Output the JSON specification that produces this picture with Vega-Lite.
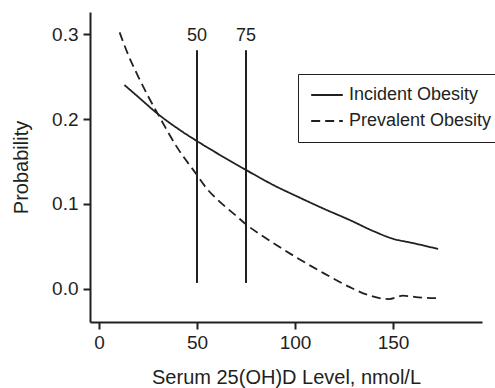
{
  "$schema": "https://vega.github.io/schema/vega-lite/v6.json",
  "autosize": {"type": "none"},
  "width": 392,
  "height": 310,
  "padding": {"left": 90, "top": 12, "right": 13, "bottom": 66},
  "background": "white",
  "config": {
    "view": {"stroke": null},
    "font": "Liberation Sans",
    "axis": {"grid": false, "domainColor": "#231f20", "tickColor": "#231f20", "domainWidth": 2, "tickWidth": 2, "tickSize": 7, "labelColor": "#231f20", "titleColor": "#231f20", "labelFontSize": 19, "titleFontSize": 20, "titleFontWeight": "normal", "labelFont": "Liberation Sans", "titleFont": "Liberation Sans", "labelPadding": 5}
  },
  "datasets": {
    "curves": [
      {"x": 13, "p": 0.240, "series": "Incident Obesity"},
      {"x": 20, "p": 0.226, "series": "Incident Obesity"},
      {"x": 30, "p": 0.206, "series": "Incident Obesity"},
      {"x": 40, "p": 0.189, "series": "Incident Obesity"},
      {"x": 50, "p": 0.174, "series": "Incident Obesity"},
      {"x": 60, "p": 0.160, "series": "Incident Obesity"},
      {"x": 75, "p": 0.140, "series": "Incident Obesity"},
      {"x": 90, "p": 0.121, "series": "Incident Obesity"},
      {"x": 100, "p": 0.110, "series": "Incident Obesity"},
      {"x": 115, "p": 0.094, "series": "Incident Obesity"},
      {"x": 128, "p": 0.081, "series": "Incident Obesity"},
      {"x": 140, "p": 0.068, "series": "Incident Obesity"},
      {"x": 150, "p": 0.059, "series": "Incident Obesity"},
      {"x": 160, "p": 0.054, "series": "Incident Obesity"},
      {"x": 173, "p": 0.047, "series": "Incident Obesity"},
      {"x": 10.5, "p": 0.302, "series": "Prevalent Obesity"},
      {"x": 15, "p": 0.275, "series": "Prevalent Obesity"},
      {"x": 20, "p": 0.250, "series": "Prevalent Obesity"},
      {"x": 25, "p": 0.227, "series": "Prevalent Obesity"},
      {"x": 30, "p": 0.206, "series": "Prevalent Obesity"},
      {"x": 40, "p": 0.166, "series": "Prevalent Obesity"},
      {"x": 50, "p": 0.134, "series": "Prevalent Obesity"},
      {"x": 55, "p": 0.118, "series": "Prevalent Obesity"},
      {"x": 60, "p": 0.106, "series": "Prevalent Obesity"},
      {"x": 70, "p": 0.086, "series": "Prevalent Obesity"},
      {"x": 75, "p": 0.076, "series": "Prevalent Obesity"},
      {"x": 85, "p": 0.060, "series": "Prevalent Obesity"},
      {"x": 100, "p": 0.038, "series": "Prevalent Obesity"},
      {"x": 115, "p": 0.018, "series": "Prevalent Obesity"},
      {"x": 128, "p": 0.002, "series": "Prevalent Obesity"},
      {"x": 137, "p": -0.007, "series": "Prevalent Obesity"},
      {"x": 148, "p": -0.012, "series": "Prevalent Obesity"},
      {"x": 155, "p": -0.008, "series": "Prevalent Obesity"},
      {"x": 163, "p": -0.010, "series": "Prevalent Obesity"},
      {"x": 173, "p": -0.011, "series": "Prevalent Obesity"}
    ],
    "refs": [
      {"x": 50, "y1": 0.007, "y2": 0.281, "label": "50", "ly": 0.298},
      {"x": 75, "y1": 0.007, "y2": 0.281, "label": "75", "ly": 0.298}
    ]
  },
  "layer": [
    {
      "data": {"name": "curves"},
      "mark": {"type": "line", "interpolate": "monotone", "color": "#231f20", "strokeWidth": 1.8},
      "encoding": {
        "x": {"field": "x", "type": "quantitative", "scale": {"domain": [-4.6, 195.4], "nice": false, "zero": false}, "axis": {"values": [0, 50, 100, 150], "title": "Serum 25(OH)D Level, nmol/L", "titlePadding": 15, "labelPadding": 4}},
        "y": {"field": "p", "type": "quantitative", "scale": {"domain": [-0.039, 0.326], "nice": false, "zero": false}, "axis": {"values": [0, 0.1, 0.2, 0.3], "format": ".1f", "title": "Probability", "titlePadding": 20}},
        "strokeDash": {"field": "series", "type": "nominal", "scale": {"domain": ["Incident Obesity", "Prevalent Obesity"], "range": [[1, 0], [9, 5]]},
          "legend": {"title": null, "orient": "none", "legendX": 208, "legendY": 62, "strokeColor": "#231f20", "fillColor": "white", "padding": 12, "labelFontSize": 18, "labelColor": "#231f20", "symbolType": "stroke", "symbolSize": 1000, "clipHeight": 18, "symbolStrokeWidth": 1.8, "symbolStrokeColor": "#231f20", "rowPadding": 8, "labelOffset": 5}}
      }
    },
    {
      "data": {"name": "refs"},
      "mark": {"type": "rule", "color": "#231f20", "strokeWidth": 2},
      "encoding": {
        "x": {"field": "x", "type": "quantitative"},
        "y": {"field": "y1", "type": "quantitative"},
        "y2": {"field": "y2"}
      }
    },
    {
      "data": {"name": "refs"},
      "mark": {"type": "text", "fontSize": 18, "color": "#231f20", "baseline": "middle", "font": "Liberation Sans"},
      "encoding": {
        "x": {"field": "x", "type": "quantitative"},
        "y": {"field": "ly", "type": "quantitative"},
        "text": {"field": "label"}
      }
    }
  ]
}
